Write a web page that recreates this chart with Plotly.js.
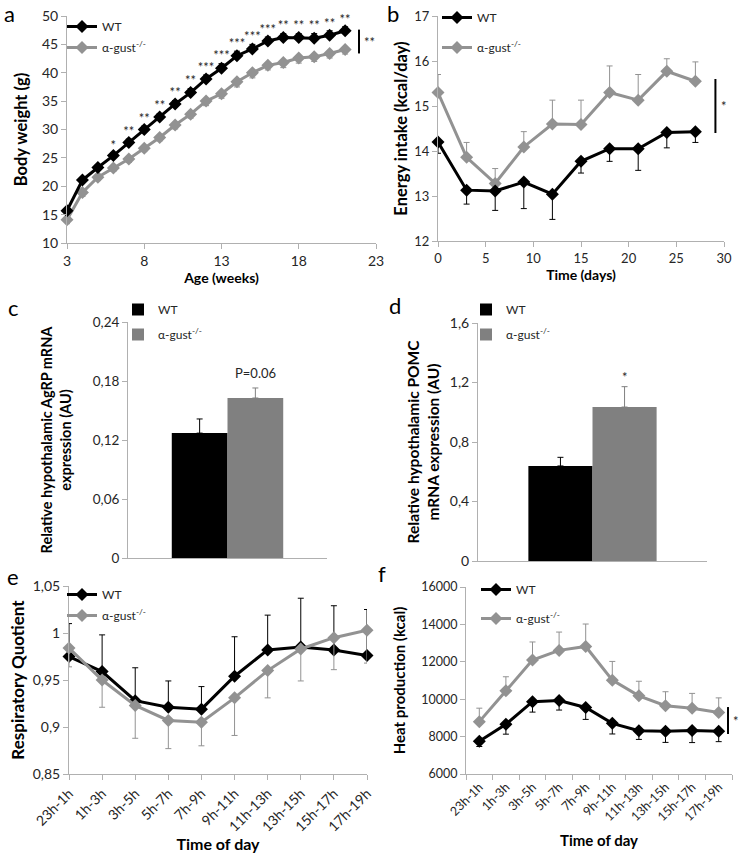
<!DOCTYPE html>
<html>
<head>
<meta charset="utf-8">
<script src="https://cdn.plot.ly/plotly-3.0.1.min.js"></script>
<style>html,body{margin:0;padding:0;background:#fff;}#chart{width:743px;height:853px;}</style>
</head>
<body>
<div id="chart"></div>
<script>
// ---------- DATA ----------
// Panel a: body weight (g) vs age (weeks)
const weeksA = [3,4,5,6,7,8,9,10,11,12,13,14,15,16,17,18,19,20,21];
const wtWeight = [15.7,21.1,23.3,25.4,27.7,30.0,32.2,34.5,36.5,38.9,40.8,43.0,44.2,45.6,46.2,46.2,46.1,46.6,47.4];
const wtWeightErr = [0.4,0.4,0.5,0.5,0.6,0.6,0.6,0.6,0.7,0.7,0.8,0.8,0.8,0.7,0.7,0.7,0.8,0.8,0.7];
const koWeight = [14.1,18.9,21.6,23.2,24.8,26.7,28.6,30.8,32.7,35.0,36.3,38.4,40.0,41.3,41.8,42.6,42.8,43.4,44.1];
const koWeightErr = [0.7,0.7,0.6,0.6,0.6,0.6,0.6,0.7,0.7,0.8,0.8,0.9,0.9,0.8,0.9,0.9,0.8,0.8,0.8];
const sigA = ['','','','*','**','**','**','**','**','***','***','***','***','***','**','**','**','**','**'];

// Panel b: energy intake (kcal/day) vs time (days)
const daysB = [0,3,6,9,12,15,18,21,24,27];
const wtIntake = [14.20,13.13,13.11,13.31,13.04,13.77,14.05,14.05,14.41,14.43];
const wtIntakeErr = [0.25,0.31,0.43,0.59,0.56,0.26,0.28,0.48,0.34,0.24];
const koIntake = [15.30,13.86,13.28,14.09,14.60,14.59,15.30,15.13,15.77,15.55];
const koIntakeErr = [0.40,0.33,0.33,0.34,0.53,0.54,0.59,0.57,0.28,0.43];

// Panel c: AgRP mRNA (WT, α-gust-/-)
const agrpMean = [0.127, 0.1627];
const agrpErr = [0.0144, 0.0102];
// Panel d: POMC mRNA (WT, α-gust-/-)
const pomcMean = [0.639, 1.035];
const pomcErr = [0.058, 0.137];

// Panels e, f: time of day
const timeSlots = ['23h-1h','1h-3h','3h-5h','5h-7h','7h-9h','9h-11h','11h-13h','13h-15h','15h-17h','17h-19h'];
const wtRQ = [0.975,0.959,0.928,0.921,0.919,0.954,0.982,0.985,0.982,0.976];
const wtRQErr = [0.035,0.039,0.035,0.028,0.024,0.042,0.037,0.052,0.047,0.049];
const koRQ = [0.984,0.950,0.923,0.907,0.905,0.931,0.960,0.983,0.995,1.003];
const koRQErr = [0.020,0.029,0.035,0.030,0.025,0.040,0.029,0.034,0.034,0.035];
const wtHeat = [7750,8660,9870,9930,9560,8710,8310,8290,8320,8280];
const wtHeatErr = [280,530,560,510,640,570,460,600,640,550];
const koHeat = [8800,10450,12090,12610,12820,11020,10180,9650,9510,9290];
const koHeatErr = [720,750,970,980,1200,1000,780,750,800,780];

const groupNames = ['WT', 'α-gust<sup>-/-</sup>'];

// ---------- STYLE ----------
const W = 743, H = 853;
const fx = p => p / W;
const fy = p => 1 - p / H;
const BLACK = '#000000', GRAY = '#929292', BARGRAY = '#808080';
const AXC = '#b0b0b0', TXT = '#262626';
const FONT = 'Lato, "Open Sans", sans-serif';

function lineTrace(x, y, err, up, color, name, rank, xa, ya, legend, group) {
  const zeros = err.map(() => 0);
  return {
    type: 'scatter', mode: 'lines+markers', x: x, y: y, name: name, legendrank: rank,
    xaxis: xa, yaxis: ya, legend: legend, legendgroup: group,
    line: {color: color, width: 3}, marker: {symbol: 'diamond', size: 10, color: color},
    error_y: {type: 'data', symmetric: false, array: up ? err : zeros, arrayminus: up ? zeros : err,
              color: color, thickness: 1, width: 3},
    cliponaxis: false, hoverinfo: 'skip'
  };
}

const traces = [];
const ann = [];
// a
traces.push(lineTrace(weeksA, koWeight, koWeightErr, false, GRAY, groupNames[1], 2, 'x', 'y', 'legend', 'a2'));
traces.push(lineTrace(weeksA, wtWeight, wtWeightErr, true, BLACK, groupNames[0], 1, 'x', 'y', 'legend', 'a1'));
const starIdx = sigA.map((s, i) => i).filter(i => sigA[i] !== '');
traces.push({type: 'scatter', mode: 'text', x: starIdx.map(i => weeksA[i]),
  y: starIdx.map(i => wtWeight[i] + wtWeightErr[i]), text: starIdx.map(i => sigA[i]),
  textposition: 'top center', textfont: {family: FONT, size: 13, color: TXT},
  xaxis: 'x', yaxis: 'y', showlegend: false, cliponaxis: false, hoverinfo: 'skip'});
// b
traces.push(lineTrace(daysB, koIntake, koIntakeErr, true, GRAY, groupNames[1], 2, 'x2', 'y2', 'legend2', 'b2'));
traces.push(lineTrace(daysB, wtIntake, wtIntakeErr, false, BLACK, groupNames[0], 1, 'x2', 'y2', 'legend2', 'b1'));
// c, d bars
const barW = 0.28;
function barTrace(val, err, i, color, xa, ya, legend, group) {
  return {type: 'bar', x: [0], y: [val[i]], name: groupNames[i], legendrank: i + 1, width: barW, offset: i === 0 ? -barW : 0,
    marker: {color: color, line: {width: 0}}, xaxis: xa, yaxis: ya, legend: legend, legendgroup: group,
    error_y: {type: 'data', symmetric: false, array: [err[i]], arrayminus: [0], color: color === BLACK ? BLACK : BARGRAY, thickness: 1, width: 3},
    hoverinfo: 'skip'};
}
traces.push(barTrace(agrpMean, agrpErr, 0, BLACK, 'x3', 'y3', 'legend3', 'c1'));
traces.push(barTrace(agrpMean, agrpErr, 1, BARGRAY, 'x3', 'y3', 'legend3', 'c2'));
ann.push({text: 'P=0.06', xref: 'x3', yref: 'y3', x: barW / 2, y: agrpMean[1] + agrpErr[1], showarrow: false,
  xanchor: 'center', yanchor: 'bottom', yshift: 5, font: {family: FONT, size: 13, color: TXT}});
traces.push(barTrace(pomcMean, pomcErr, 0, BLACK, 'x4', 'y4', 'legend4', 'd1'));
traces.push(barTrace(pomcMean, pomcErr, 1, BARGRAY, 'x4', 'y4', 'legend4', 'd2'));
ann.push({text: '*', xref: 'x4', yref: 'y4', x: barW / 2, y: pomcMean[1] + pomcErr[1], showarrow: false,
  xanchor: 'center', yanchor: 'bottom', yshift: 0, font: {family: FONT, size: 13, color: TXT}});
// e
traces.push(lineTrace(timeSlots, wtRQ, wtRQErr, true, BLACK, groupNames[0], 1, 'x5', 'y5', 'legend5', 'e1'));
traces.push(lineTrace(timeSlots, koRQ, koRQErr, false, GRAY, groupNames[1], 2, 'x5', 'y5', 'legend5', 'e2'));
// f
traces.push(lineTrace(timeSlots, koHeat, koHeatErr, true, GRAY, groupNames[1], 2, 'x6', 'y6', 'legend6', 'f2'));
traces.push(lineTrace(timeSlots, wtHeat, wtHeatErr, false, BLACK, groupNames[0], 1, 'x6', 'y6', 'legend6', 'f1'));

// ---------- AXES ----------
function axis(size, titleText, titleSize, standoff, extra) {
  const a = {
    showline: true, linecolor: AXC, linewidth: 1, ticks: 'outside', ticklen: 5, tickcolor: AXC,
    showgrid: false, zeroline: false, tickfont: {family: FONT, size: size, color: TXT},
    exponentformat: 'none', separatethousands: false, fixedrange: true, automargin: false
  };
  if (titleText) a.title = {text: titleText, standoff: standoff, font: {family: FONT, size: titleSize, color: '#000', weight: 'bold'}};
  return Object.assign(a, extra);
}
function legend(px, py, gap) {
  return {x: fx(px), y: fy(py), xanchor: 'left', yanchor: 'top', bgcolor: 'rgba(0,0,0,0)',
    font: {family: FONT, size: 12, color: TXT}, traceorder: 'grouped', tracegroupgap: gap,
    itemwidth: 30, borderwidth: 0};
}

function label(t, px, py) {
  ann.push({text: t, x: fx(px), y: fy(py), xref: 'paper', yref: 'paper', showarrow: false,
    xanchor: 'left', yanchor: 'middle', font: {family: FONT, size: 22, color: '#000'}});
}
label('a', 2, 13); label('b', 385, 13); label('c', 6, 307); label('d', 387, 305); label('e', 5, 576); label('f', 376, 573);

// significance brackets
const shapes = [];
function bracket(xa, ya, xv, y0, y1, txt, dxPx) {
  shapes.push({type: 'line', xref: xa, yref: ya, x0: xv, x1: xv, y0: y0, y1: y1, line: {color: '#000', width: 2}});
  ann.push({text: txt, xref: xa, yref: ya, x: xv, y: (y0 + y1) / 2, xshift: dxPx, showarrow: false,
    xanchor: 'left', yanchor: 'middle', font: {family: FONT, size: 13, color: TXT}});
}
const nA = weeksA.length - 1, nB = daysB.length - 1, nF = timeSlots.length - 1;
bracket('x', 'y', weeksA[nA] + 0.9, koWeight[nA] - 0.7, wtWeight[nA] + 0.2, '**', 3);
bracket('x2', 'y2', daysB[nB] + 2.1, wtIntake[nB] - 0.03, koIntake[nB] + 0.05, '*', 4);
bracket('x6', 'y6', nF + 0.35, wtHeat[nF] - 140, koHeat[nF] + 290, '*', 3);

const layout = {
  width: W, height: H, margin: {l: 0, r: 0, t: 0, b: 0},
  paper_bgcolor: '#fff', plot_bgcolor: 'rgba(0,0,0,0)',
  separators: ', ', showlegend: true, barmode: 'overlay',
  font: {family: FONT, color: TXT},
  xaxis: axis(14, 'Age (weeks)', 14, 1, {domain: [fx(67), fx(376)], anchor: 'y', range: [3, 23], tick0: 3, dtick: 5}),
  yaxis: axis(14, 'Body weight (g)', 16.5, 10, {domain: [fy(243), fy(16)], anchor: 'x', range: [10, 50], dtick: 5}),
  xaxis2: axis(13, 'Time (days)', 14, 2, {domain: [fx(438), fx(724)], anchor: 'y2', range: [0, 30], dtick: 5}),
  yaxis2: axis(13, 'Energy intake (kcal/day)', 16.5, 2, {domain: [fy(241), fy(16)], anchor: 'x2', range: [12, 17], dtick: 1}),
  xaxis3: axis(13.5, '', 0, 0, {domain: [fx(128), fx(327)], anchor: 'y3', range: [-0.5, 0.5], showticklabels: false, ticks: ''}),
  yaxis3: axis(13.5, 'Relative hypothalamic AgRP mRNA<br>expression (AU)', 14.5, 17, {domain: [fy(558), fy(322)], anchor: 'x3', range: [0, 0.24], dtick: 0.06}),
  xaxis4: axis(14, '', 0, 0, {domain: [fx(478), fx(707)], anchor: 'y4', range: [-0.5, 0.5], showticklabels: false, ticks: ''}),
  yaxis4: axis(14, 'Relative hypothalamic POMC<br>mRNA expression (AU)', 15.5, 6, {domain: [fy(561), fy(323)], anchor: 'x4', range: [0, 1.6], dtick: 0.4}),
  xaxis5: axis(14, 'Time of day', 16, 8, {domain: [fx(69), fx(367)], anchor: 'y5', type: 'category', range: [0, 9], tickangle: -45}),
  yaxis5: axis(14, 'Respiratory Quotient', 17, 3, {domain: [fy(774), fy(586)], anchor: 'x5', range: [0.85, 1.05], dtick: 0.05}),
  xaxis6: axis(12.5, 'Time of day', 15, 12, {domain: [fx(466), fx(732)], anchor: 'y6', type: 'category', range: [-0.5, 9.5], tickangle: -45, tickson: 'boundaries'}),
  yaxis6: axis(12.5, 'Heat production (kcal)', 15, 12, {domain: [fy(774), fy(587)], anchor: 'x6', range: [6000, 16000], dtick: 2000, tickformat: 'd'}),
  legend: legend(62, 12, 2),
  legend2: legend(437, 3, 11),
  legend3: legend(118, 295, 6),
  legend4: legend(466, 295, 6),
  legend5: legend(62, 580, 2),
  legend6: legend(476, 575, 10),
  annotations: ann, shapes: shapes
};

Plotly.newPlot('chart', traces, layout, {staticPlot: true, displayModeBar: false});
</script>
</body>
</html>
